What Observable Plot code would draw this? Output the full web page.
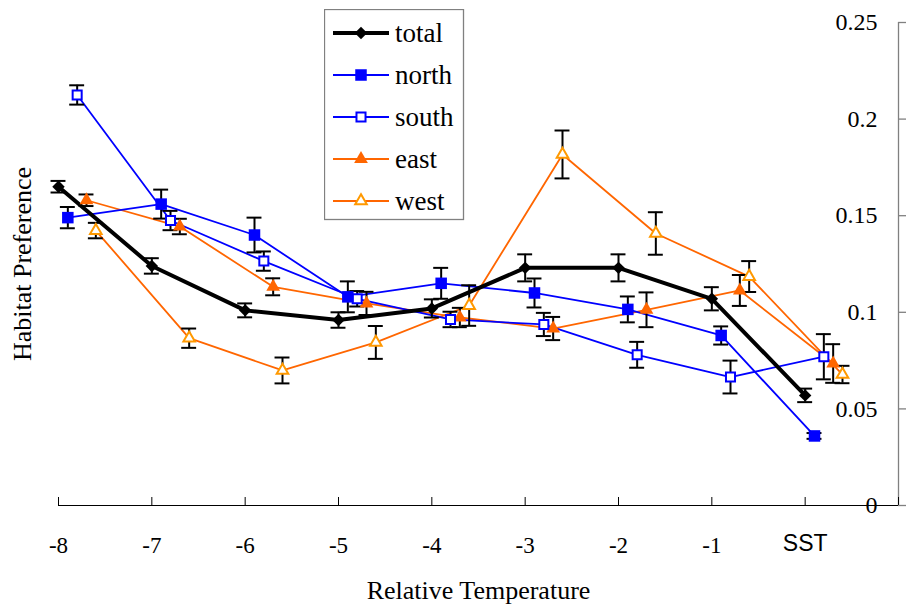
<!DOCTYPE html>
<html>
<head>
<meta charset="utf-8">
<script src="https://cdn.jsdelivr.net/npm/d3@7"></script>
<script src="https://cdn.jsdelivr.net/npm/@observablehq/plot@0.6"></script>
<style>
  body { margin: 0; background: #fff; }
  #wrap { position: relative; width: 907px; height: 608px; overflow: hidden; }
  #legend { position: absolute; left: 324px; top: 9px; }
</style>
</head>
<body>
<div id="wrap"></div>
<script>
// ---- data ----
const categories = ["-8", "-7", "-6", "-5", "-4", "-3", "-2", "-1", "SST"];
const xValues = [-8, -7, -6, -5, -4, -3, -2, -1, 0];
const seriesNames = ["total", "north", "south", "east", "west"];
const seriesOffset = [0, 0.1, 0.2, 0.3, 0.4];

const total    = [0.165, 0.124, 0.101, 0.096, 0.102, 0.123, 0.123, 0.107, 0.057];
const totalErr = [0.003, 0.004, 0.0036, 0.004, 0.0047, 0.007, 0.007, 0.006, 0.0035];
const north    = [0.149, 0.156, 0.140, 0.108, 0.115, 0.110, 0.1015, 0.088, 0.036];
const northErr = [0.0055, 0.0075, 0.009, 0.008, 0.008, 0.0075, 0.0067, 0.0047, 0.0015];
const south    = [0.2125, 0.1475, 0.1265, 0.107, 0.0963, 0.0937, 0.078, 0.0665, 0.077];
const southErr = [0.005, 0.005, 0.005, 0.004, 0.004, 0.006, 0.0067, 0.0085, 0.0117];
const east     = [0.158, 0.1444, 0.1132, 0.1046, 0.0973, 0.0916, 0.1013, 0.1113, 0.0735];
const eastErr  = [0.003, 0.004, 0.0044, 0.006, 0.005, 0.006, 0.009, 0.008, 0.010];
const west     = [0.1423, 0.0866, 0.0699, 0.0844, 0.1035, 0.1817, 0.1408, 0.1185, 0.0678];
const westErr  = [0.004, 0.005, 0.0067, 0.0085, 0.0105, 0.0124, 0.011, 0.008, 0.0045];

const xTickValues = [-8, -7, -6, -5, -4, -3, -2, -1, 0, 1];
const yTicks = [0, 0.05, 0.1, 0.15, 0.2, 0.25];
const yTickLabels = ["0", "0.05", "0.1", "0.15", "0.2", "0.25"];

// ---- styles ----
const BLUE = "#0000FF", ORANGE = "#FF6600", LIGHTORANGE = "#FF9900";
const styles = {
  total: {line: "#000", lw: 4, symbol: "diamond2", fill: "#000", stroke: "none", sw: 0, r: 5.6},
  north: {line: BLUE, lw: 1.8, symbol: "square", fill: BLUE, stroke: "none", sw: 0, r: 6.5},
  south: {line: BLUE, lw: 1.8, symbol: "square", fill: "#fff", stroke: BLUE, sw: 2, r: 5.1},
  east:  {line: ORANGE, lw: 1.8, symbol: "triangle", fill: ORANGE, stroke: "none", sw: 0, r: 5.1},
  west:  {line: ORANGE, lw: 1.8, symbol: "triangle", fill: "#fff", stroke: LIGHTORANGE, sw: 2, r: 4.3}
};

const values = {total, north, south, east, west};
const errors = {total: totalErr, north: northErr, south: southErr, east: eastErr, west: westErr};

const rows = [];
seriesNames.forEach((s, k) => {
  values[s].forEach((v, i) => {
    rows.push({series: s, x: xValues[i] + seriesOffset[k], y: v, err: errors[s][i]});
  });
});

const capHalf = 0.08;
const serif = "'Liberation Serif', 'Times New Roman', serif";
const sans = "'Liberation Sans', Arial, sans-serif";

const drawOrder = ["west", "east", "south", "north", "total"];
const lineMarks = drawOrder.map(s => Plot.line(rows.filter(d => d.series === s), {
  x: "x", y: "y", stroke: styles[s].line, strokeWidth: styles[s].lw, strokeLinejoin: "round"
}));
const dotMarks = drawOrder.map(s => Plot.dot(rows.filter(d => d.series === s), {
  x: "x", y: "y", symbol: styles[s].symbol, r: styles[s].r,
  fill: styles[s].fill, stroke: styles[s].stroke, strokeWidth: styles[s].sw
}));

const chart = Plot.plot({
  width: 907,
  height: 608,
  marginLeft: 58,
  marginRight: 9,
  marginTop: 22,
  marginBottom: 103,
  style: {fontFamily: serif, background: "#fff", overflow: "visible"},
  x: {domain: [-8, 1], axis: null},
  y: {domain: [0, 0.25], axis: null},
  marks: [
    // axes lines
    Plot.ruleY([0], {stroke: "#000", strokeWidth: 1}),
    Plot.ruleX([1], {stroke: "#808080", strokeWidth: 1.3}),
    // x ticks pointing up
    Plot.ruleX(xTickValues, {x: d => d, y1: 0, y2: 0, insetBottom: 8, stroke: "#000", strokeWidth: 1}),
    // y ticks pointing right
    Plot.ruleY(yTicks, {y: d => d, x1: 1, x2: 1, insetRight: -8, stroke: "#808080", strokeWidth: 1.3}),
    // x tick labels
    Plot.text(xValues.slice(0, 8), {x: d => d, y: 0, text: (d, i) => categories[i], dy: 40, fontSize: 23, fontFamily: serif, fill: "#000"}),
    Plot.text([xValues[8]], {x: d => d, y: 0, text: () => categories[8], dy: 38, fontSize: 23, fontFamily: sans, fill: "#000"}),
    // y tick labels
    Plot.text(yTicks, {x: 1, y: d => d, text: (d, i) => yTickLabels[i], textAnchor: "end", dx: -21, fontSize: 24, fontFamily: serif, fill: "#000"}),
    // titles
    Plot.text(["Relative Temperature"], {frameAnchor: "bottom", textAnchor: "middle", lineAnchor: "middle", dy: 85, fontSize: 26, fontFamily: serif, fill: "#000"}),
    Plot.text(["Habitat Preference"], {frameAnchor: "left", textAnchor: "middle", lineAnchor: "middle", dx: -36, rotate: -90, fontSize: 26, fontFamily: serif, fill: "#000"}),
    // series lines
    ...lineMarks,
    // error bars
    Plot.ruleX(rows, {x: "x", y1: d => d.y - d.err, y2: d => d.y + d.err, stroke: "#000", strokeWidth: 2}),
    Plot.ruleY(rows, {y: d => d.y + d.err, x1: d => d.x - capHalf, x2: d => d.x + capHalf, stroke: "#000", strokeWidth: 2}),
    Plot.ruleY(rows, {y: d => d.y - d.err, x1: d => d.x - capHalf, x2: d => d.x + capHalf, stroke: "#000", strokeWidth: 2}),
    // markers
    ...dotMarks
  ]
});

const wrap = document.getElementById("wrap");
wrap.appendChild(chart);

// ---- legend (HTML overlay) ----
const lg = d3.select(wrap).append("div").attr("id", "legend")
  .append("svg").attr("width", 141).attr("height", 212);
lg.append("rect").attr("x", 0.5).attr("y", 0.5).attr("width", 139).attr("height", 210)
  .attr("fill", "#fff").attr("stroke", "#808080").attr("stroke-width", 1.3);
const symbolMap = {diamond2: d3.symbolDiamond2, square: d3.symbolSquare, triangle: d3.symbolTriangle};
seriesNames.forEach((s, k) => {
  const st = styles[s];
  const cy = 24 + k * 42;
  const g = lg.append("g");
  g.append("line").attr("x1", 9).attr("x2", 65).attr("y1", cy).attr("y2", cy)
    .attr("stroke", st.line).attr("stroke-width", st.lw);
  g.append("path")
    .attr("d", d3.symbol(symbolMap[st.symbol], Math.PI * st.r * st.r)())
    .attr("transform", `translate(37,${cy})`)
    .attr("fill", st.fill).attr("stroke", st.stroke).attr("stroke-width", st.sw);
  g.append("text").attr("x", 71).attr("y", cy).attr("dy", "0.33em")
    .attr("font-family", serif).attr("font-size", 27).attr("fill", "#000").text(s);
});
</script>
</body>
</html>
